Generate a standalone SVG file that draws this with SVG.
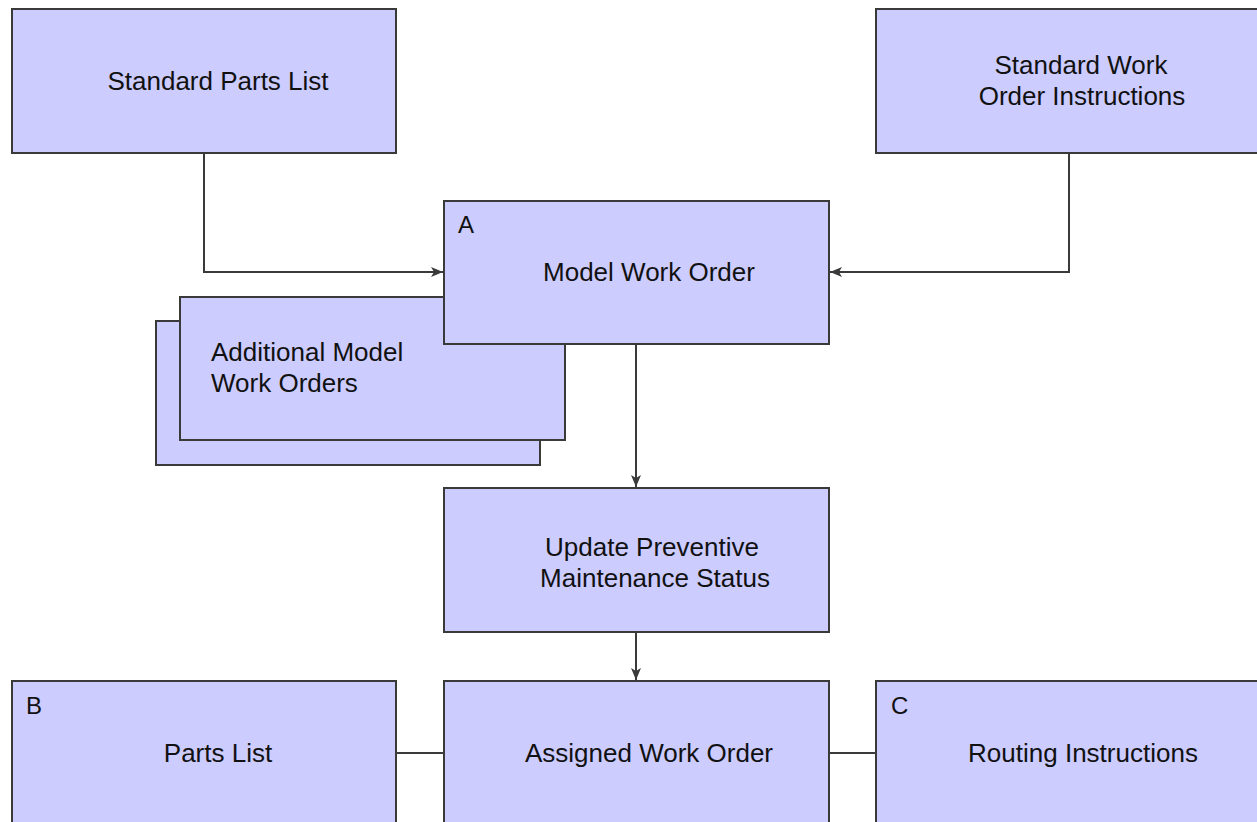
<svg xmlns="http://www.w3.org/2000/svg" width="1257" height="822" viewBox="0 0 1257 822">
<defs>
<style>
.box{fill:#ccccff;stroke:#3a3a3a;stroke-width:2}
.t{font-family:"Liberation Sans",Arial,sans-serif;font-size:26px;fill:#111;text-anchor:middle}
.l{font-family:"Liberation Sans",Arial,sans-serif;font-size:24px;fill:#111}
.c{fill:none;stroke:#3a3a3a;stroke-width:2}
</style>
<marker id="ah" viewBox="0 0 12 10" refX="12" refY="5" markerWidth="12" markerHeight="10" markerUnits="userSpaceOnUse" orient="auto">
<path d="M0,0 L12,5 L0,10 L3,5 Z" fill="#3a3a3a"/>
</marker>
</defs>
<rect width="1257" height="822" fill="#ffffff"/>
<g id="connectors">
<polyline class="c" points="204,153 204,272 443,272" marker-end="url(#ah)"/>
<polyline class="c" points="1069,153 1069,272 830,272" marker-end="url(#ah)"/>
<line class="c" x1="636" y1="344" x2="636" y2="487" marker-end="url(#ah)"/>
<line class="c" x1="636" y1="632" x2="636" y2="680" marker-end="url(#ah)"/>
<line class="c" x1="396" y1="753" x2="444" y2="753"/>
<line class="c" x1="829" y1="753" x2="876" y2="753"/>
</g>
<g id="standard-parts-list">
<rect class="box" x="12" y="9" width="384" height="144"/>
<text class="t" x="218" y="90">Standard Parts List</text>
</g>
<g id="standard-work-order-instructions">
<rect class="box" x="876" y="9" width="400" height="144"/>
<text class="t" x="1081" y="74">Standard Work</text>
<text class="t" x="1082" y="105">Order Instructions</text>
</g>
<g id="additional-model-work-orders">
<rect class="box" x="156" y="321" width="384" height="144"/>
<rect class="box" x="180" y="297" width="385" height="143"/>
<text class="t" x="211" y="361" text-anchor="start" style="text-anchor:start">Additional Model</text>
<text class="t" x="211" y="392" style="text-anchor:start">Work Orders</text>
</g>
<g id="model-work-order">
<rect class="box" x="444" y="201" width="385" height="143"/>
<text class="l" x="458" y="233">A</text>
<text class="t" x="649" y="281">Model Work Order</text>
</g>
<g id="update-pm-status">
<rect class="box" x="444" y="488" width="385" height="144"/>
<text class="t" x="652" y="556">Update Preventive</text>
<text class="t" x="655" y="587">Maintenance Status</text>
</g>
<g id="parts-list">
<rect class="box" x="12" y="681" width="384" height="160"/>
<text class="l" x="26" y="714">B</text>
<text class="t" x="218" y="762">Parts List</text>
</g>
<g id="assigned-work-order">
<rect class="box" x="444" y="681" width="385" height="160"/>
<text class="t" x="649" y="762">Assigned Work Order</text>
</g>
<g id="routing-instructions">
<rect class="box" x="876" y="681" width="400" height="160"/>
<text class="l" x="891" y="714">C</text>
<text class="t" x="1083" y="762">Routing Instructions</text>
</g>
</svg>
